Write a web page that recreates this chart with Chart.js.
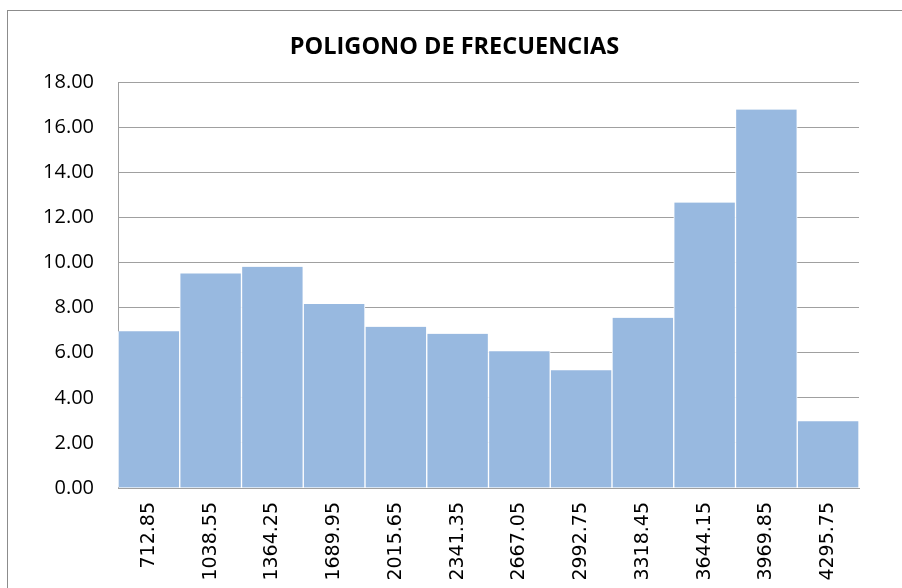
<!DOCTYPE html>
<html>
<head>
<meta charset="utf-8">
<script src="https://cdn.jsdelivr.net/npm/chart.js@4"></script>
<style>
  html, body { margin: 0; padding: 0; background: #ffffff; }
  #c { display: block; }
</style>
</head>
<body>
<canvas id="c" width="902" height="588"></canvas>
<script>
const chartTitle = 'POLIGONO DE FRECUENCIAS';
const categories = ['712.85', '1038.55', '1364.25', '1689.95', '2015.65', '2341.35', '2667.05', '2992.75', '3318.45', '3644.15', '3969.85', '4295.75'];
const frequencies = [6.95, 9.52, 9.81, 8.16, 7.15, 6.84, 6.07, 5.22, 7.55, 12.66, 16.79, 2.96];
const yMin = 0;
const yMax = 18;
const yStep = 2;

const frame = {
  id: 'frame',
  beforeDraw(chart) {
    const ctx = chart.ctx;
    ctx.save();
    ctx.fillStyle = '#ffffff';
    ctx.fillRect(0, 0, chart.width, chart.height);
    ctx.strokeStyle = '#8c8c8c';
    ctx.lineWidth = 1;
    ctx.strokeRect(7.5, 10.5, chart.width + 10, chart.height + 10);
    ctx.restore();
  }
};

new Chart(document.getElementById('c'), {
  type: 'bar',
  data: {
    labels: categories,
    datasets: [{
      data: frequencies,
      backgroundColor: '#98b9e0',
      borderColor: '#ffffff',
      borderWidth: { top: 0, left: 1, right: 1, bottom: 0 },
      borderSkipped: 'bottom',
      categoryPercentage: 1.0,
      barPercentage: 1.0
    }]
  },
  options: {
    responsive: false,
    animation: false,
    devicePixelRatio: 1,
    layout: { padding: { left: 7, right: 0, top: 10, bottom: 0 } },
    plugins: {
      legend: { display: false },
      tooltip: { enabled: false },
      title: {
        display: true,
        text: chartTitle,
        color: '#000000',
        font: { family: 'Open Sans', size: 23.5, weight: 'bold', lineHeight: 1.2 },
        padding: { top: 23, bottom: 21 }
      }
    },
    scales: {
      x: {
        grid: { display: false, drawTicks: false },
        border: { display: true, color: '#a0a0a0', width: 1 },
        ticks: {
          color: '#000000',
          font: { family: "'DejaVu Sans'", size: 19 },
          minRotation: 90,
          maxRotation: 90,
          autoSkip: false,
          padding: 14
        },
        afterFit(scale) { scale.height = 100; }
      },
      y: {
        min: yMin,
        max: yMax,
        grid: { color: '#a0a0a0', lineWidth: 1, drawTicks: false },
        border: { display: true, color: '#a0a0a0', width: 1 },
        ticks: {
          stepSize: yStep,
          color: '#000000',
          font: { family: 'Open Sans', size: 20 },
          padding: 24,
          callback: (v) => Number(v).toFixed(2)
        },
        afterFit(scale) { scale.width = 111; }
      },
      yRight: {
        position: 'right',
        min: yMin,
        max: yMax,
        grid: { display: false, drawTicks: false },
        border: { display: false },
        ticks: { display: false },
        afterFit(scale) { scale.width = 43; }
      }
    }
  },
  plugins: [frame]
});
</script>
</body>
</html>
